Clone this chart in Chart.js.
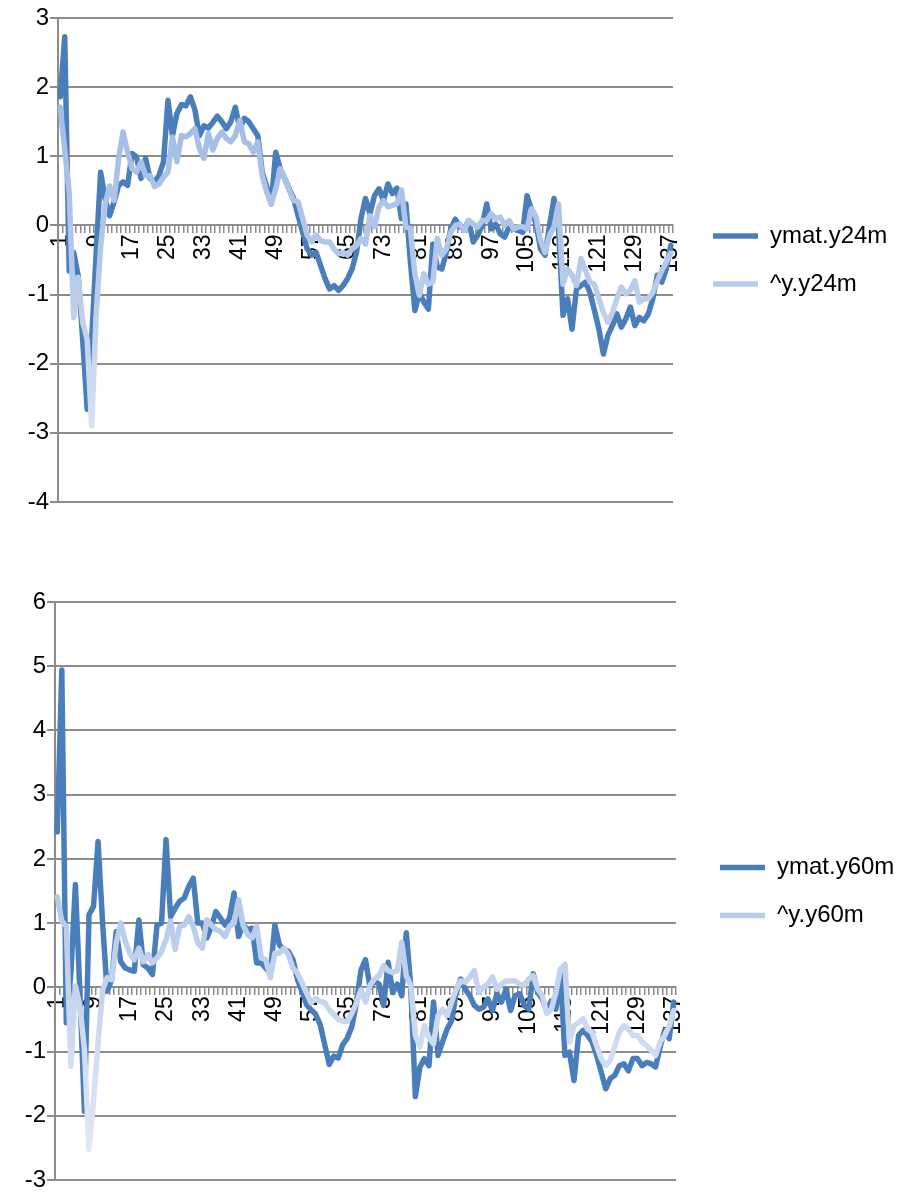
<!DOCTYPE html>
<html><head><meta charset="utf-8">
<script src="https://cdn.jsdelivr.net/npm/chart.js@4.4.1/dist/chart.umd.min.js"></script>
<style>
html,body{margin:0;padding:0;background:#fff;overflow:hidden;}
#wrap{position:relative;width:899px;height:1193px;}
canvas{position:absolute;left:0;}
#c1{top:0;} #c2{top:540px;}
</style></head><body>
<div id="wrap"><canvas id="c1" width="899" height="540"></canvas><canvas id="c2" width="899" height="653"></canvas></div>
<script>
const categories = Array.from({length:137}, (_, i) => String(i + 1));
const shownXTicks = ['1','9','17','25','33','41','49','57','65','73','81','89','97','105','113','121','129','137'];
const yTicksTop = [3, 2, 1, 0, -1, -2, -3, -4];
const yTicksBottom = [6, 5, 4, 3, 2, 1, 0, -1, -2, -3];
const seriesNamesTop = ['ymat.y24m', '^y.y24m'];
const seriesNamesBottom = ['ymat.y60m', '^y.y60m'];

const ymat_y24m = [1.86,2.73,-0.66,-0.39,-0.73,-1.65,-2.66,-1.65,-0.40,0.77,
0.38,0.14,0.34,0.58,0.63,0.58,1.04,0.99,0.68,0.97,
0.68,0.63,0.72,0.92,1.81,1.30,1.62,1.75,1.73,1.86,
1.67,1.30,1.44,1.41,1.49,1.58,1.50,1.40,1.50,1.71,
1.40,1.55,1.50,1.40,1.30,0.77,0.56,0.31,1.06,0.82,
0.68,0.53,0.39,0.14,-0.10,-0.34,-0.43,-0.39,-0.58,-0.77,
-0.92,-0.87,-0.94,-0.87,-0.77,-0.63,-0.39,0.10,0.39,0.17,
0.43,0.53,0.36,0.60,0.46,0.54,0.10,0.31,-0.53,-1.23,
-0.97,-1.11,-1.21,-0.27,-0.60,-0.63,-0.39,-0.05,0.09,-0.02,
-0.05,0.07,-0.24,-0.14,0.00,0.31,-0.05,0.02,-0.12,-0.17,
-0.02,-0.05,-0.07,-0.10,0.43,0.22,0.02,-0.34,-0.43,0.00,
0.39,-0.05,-1.30,-1.06,-1.50,-0.92,-0.87,-0.82,-0.97,-1.23,
-1.50,-1.86,-1.59,-1.45,-1.28,-1.47,-1.35,-1.18,-1.45,-1.33,
-1.38,-1.28,-1.06,-0.72,-0.82,-0.63,-0.29];

const yhat_y24m = [1.71,1.10,0.47,-1.33,-0.75,-1.40,-1.65,-2.90,-1.30,-0.30,
0.30,0.57,0.36,0.97,1.35,1.06,0.82,0.77,0.92,0.72,
0.72,0.56,0.60,0.70,0.77,1.28,0.92,1.30,1.28,1.33,
1.40,1.11,0.97,1.33,1.09,1.26,1.35,1.26,1.21,1.30,
1.52,1.21,1.18,1.06,1.21,0.72,0.48,0.31,0.53,0.82,
0.68,0.51,0.36,0.34,0.10,-0.14,-0.24,-0.14,-0.22,-0.24,
-0.24,-0.34,-0.41,-0.39,-0.43,-0.34,-0.29,-0.19,-0.27,0.14,
-0.02,0.27,0.36,0.27,0.29,0.31,0.51,-0.02,-0.05,-0.70,
-1.01,-0.70,-0.85,-0.82,-0.19,-0.43,-0.34,-0.10,0.00,0.02,
-0.07,0.07,0.02,-0.02,0.07,0.07,0.17,0.10,0.12,0.00,
0.07,-0.05,-0.02,-0.02,-0.05,0.24,0.12,-0.22,-0.39,-0.14,
-0.02,0.31,-0.85,-0.63,-0.72,-0.87,-0.48,-0.65,-0.82,-0.85,
-1.06,-1.26,-1.40,-1.26,-1.06,-0.89,-0.99,-0.94,-0.80,-1.11,
-1.06,-1.06,-0.97,-0.80,-0.65,-0.53,-0.40];

const ymat_y60m = [2.42,4.94,-0.55,0.22,1.60,-0.10,-1.93,1.13,1.26,2.27,
1.00,-0.06,0.12,0.87,0.40,0.30,0.27,0.25,1.05,0.35,
0.30,0.20,0.97,1.00,2.30,1.10,1.23,1.34,1.39,1.57,
1.70,1.00,1.00,0.77,0.95,1.18,1.08,0.97,1.08,1.47,
0.79,0.97,0.90,0.92,0.38,0.38,0.30,0.22,0.97,0.66,
0.59,0.56,0.43,0.12,-0.06,-0.27,-0.35,-0.42,-0.58,-0.89,
-1.20,-1.07,-1.10,-0.89,-0.79,-0.61,-0.24,0.27,0.43,0.00,
0.10,0.05,-0.28,0.39,-0.08,0.05,-0.13,0.85,0.00,-1.70,
-1.24,-1.11,-1.22,-0.23,-1.06,-0.85,-0.65,-0.52,-0.08,0.13,
-0.03,-0.13,-0.28,-0.34,-0.31,-0.18,-0.36,-0.10,-0.23,-0.03,
-0.36,-0.13,-0.10,-0.28,-0.34,0.21,-0.08,-0.18,-0.36,-0.21,
-0.34,0.23,-1.06,-1.01,-1.45,-0.75,-0.67,-0.75,-0.85,-1.06,
-1.32,-1.58,-1.42,-1.37,-1.22,-1.19,-1.30,-1.11,-1.11,-1.22,
-1.17,-1.19,-1.24,-0.93,-0.67,-0.80,-0.23];

const yhat_y60m = [1.41,1.03,0.95,-1.23,0.02,-0.30,-0.97,-2.52,-1.75,-0.87,
-0.04,0.15,0.12,0.69,1.00,0.72,0.53,0.43,0.61,0.40,
0.51,0.38,0.46,0.56,0.74,1.03,0.59,0.95,0.97,1.10,
0.95,0.69,0.61,1.05,0.97,0.90,0.87,0.79,0.95,1.00,
1.36,0.97,0.82,0.77,0.95,0.46,0.43,0.15,0.53,0.53,
0.61,0.51,0.30,0.22,0.07,-0.09,-0.24,-0.17,-0.22,-0.24,
-0.35,-0.42,-0.50,-0.53,-0.53,-0.40,-0.24,-0.04,-0.23,0.03,
0.13,0.18,0.34,0.26,0.23,0.26,0.70,0.18,0.03,-0.75,
-0.93,-0.60,-0.78,-0.88,-0.44,-0.34,-0.44,-0.23,-0.03,0.10,
0.08,0.16,0.26,-0.08,0.00,0.05,0.16,-0.03,0.05,0.10,
0.10,0.10,0.05,0.03,0.13,0.18,-0.03,-0.13,-0.41,-0.34,
-0.08,0.28,0.36,-0.85,-0.60,-0.55,-0.49,-0.65,-0.70,-0.91,
-1.11,-1.22,-1.14,-0.91,-0.70,-0.60,-0.65,-0.75,-0.75,-0.85,
-0.91,-0.98,-1.06,-0.85,-0.75,-0.60,-0.36];

const FONT = 'Liberation Sans, Arial, sans-serif';
const GRID = '#8c8c8c';
const DARK = '#4a7ebb';

function lightGrad(ctx) {
  const chart = ctx.chart;
  const area = chart.chartArea;
  if (!area) return '#b1c6e9';
  const g = chart.ctx.createLinearGradient(0, area.top, 0, area.bottom);
  g.addColorStop(0, '#9ab5e1');
  g.addColorStop(0.5, '#b3c8ea');
  g.addColorStop(1, '#e6ecf7');
  return g;
}

function makeChart(id, s1, s2, names, yTicks, axisW, padTop, padBottom, spacerW, rightEdge, W) {
  const chart = new Chart(document.getElementById(id), {
    type: 'line',
    data: {
      labels: categories,
      datasets: [
        {label: names[0], data: s1, borderColor: DARK, backgroundColor: DARK, borderWidth: 5.5,
         pointRadius: 0, tension: 0, borderJoinStyle: 'round', borderCapStyle: 'round', fill: false, order: 2},
        {label: names[1], data: s2, borderColor: lightGrad, backgroundColor: '#b1c6e9', borderWidth: 5.5,
         pointRadius: 0, tension: 0, borderJoinStyle: 'round', borderCapStyle: 'round', fill: false, order: 1}
      ]
    },
    options: {
      responsive: false, animation: false, devicePixelRatio: 1,
      layout: {padding: {top: padTop, bottom: padBottom, left: 0, right: 0}},
      plugins: {
        tooltip: {enabled: false},
        legend: {
          position: 'right', align: 'center', maxWidth: W - rightEdge - spacerW,
          labels: {
            usePointStyle: true, pointStyle: 'line', pointStyleWidth: 45, boxWidth: 45,
            padding: 24, color: '#000', font: {family: FONT, size: 24},
            sort: (a, b) => a.datasetIndex - b.datasetIndex
          }
        }
      },
      scales: {
        x: {
          type: 'category', position: {y: 0}, offset: true,
          grid: {offset: true, drawOnChartArea: false, drawTicks: true, tickLength: 7, color: GRID, lineWidth: 1.5},
          border: {display: true, color: GRID, width: 2},
          ticks: {
            autoSkip: false, maxRotation: 90, minRotation: 90, padding: 2, color: '#000',
            font: {family: FONT, size: 23},
            callback: function (v) { const l = this.getLabelForValue(v); return shownXTicks.includes(l) ? l : ''; }
          }
        },
        y: {
          type: 'linear', position: 'left',
          min: Math.min(...yTicks), max: Math.max(...yTicks),
          afterBuildTicks: s => { s.ticks = yTicks.map(v => ({value: v})); },
          afterFit: s => { s.width = axisW; },
          grid: {color: GRID, lineWidth: 2, tickLength: 8},
          border: {display: true, color: GRID, width: 2},
          ticks: {padding: 1, color: '#000', font: {family: FONT, size: 24, lineHeight: 1}}
        },
        spacer: {
          type: 'linear', position: 'right', display: true,
          grid: {display: false}, border: {display: false}, ticks: {display: false},
          afterFit: s => { s.width = spacerW; }
        }
      }
    }
  });
  for (let k = 0; k < 4; k++) {
    const diff = rightEdge - chart.chartArea.right;
    if (Math.abs(diff) < 0.5) break;
    chart.options.layout.padding.right = Math.max(0, chart.options.layout.padding.right - diff);
    chart.update();
  }
  return chart;
}

makeChart('c1', ymat_y24m, yhat_y24m, seriesNamesTop, yTicksTop, 58, 18, 38, 16, 673, 899);
makeChart('c2', ymat_y60m, yhat_y60m, seriesNamesBottom, yTicksBottom, 55, 62, 12, 20, 676, 899);
</script>
</body></html>
